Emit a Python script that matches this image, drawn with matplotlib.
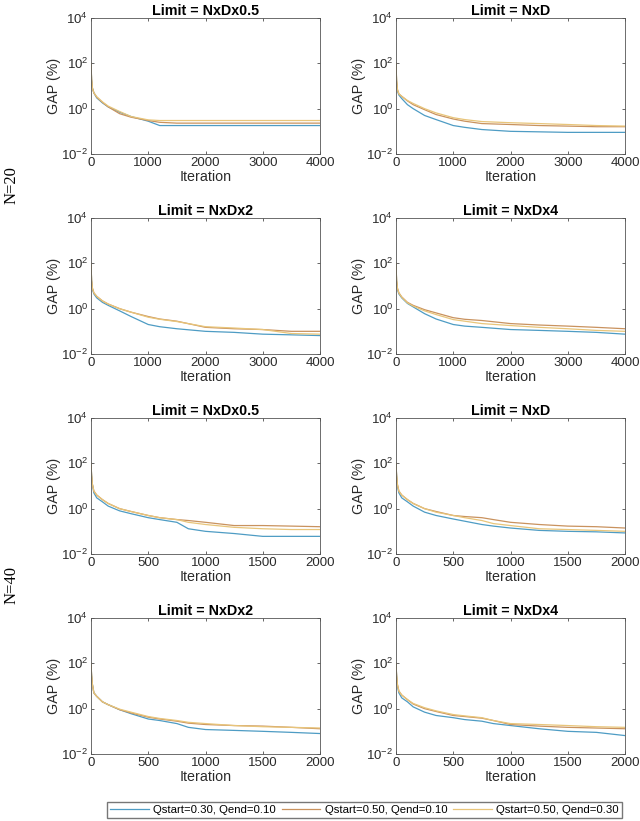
import numpy as np
import matplotlib.pyplot as plt
from matplotlib.ticker import LogLocator, NullFormatter

plt.rcParams['font.family'] = ['Liberation Sans', 'DejaVu Sans']

# iteration grids (N=20 runs for 4000 iterations, N=40 for 2000)
it20 = [0, 10, 25, 50, 100, 200, 300, 500, 700, 1000, 1200, 1500, 2000, 2500, 3000, 3500, 4000]
it40 = [0, 5, 12, 25, 50, 100, 150, 250, 350, 500, 600, 750, 850, 1000, 1250, 1500, 1750, 2000]

titles = ['Limit = NxDx0.5', 'Limit = NxD', 'Limit = NxDx2', 'Limit = NxDx4',
          'Limit = NxDx0.5', 'Limit = NxD', 'Limit = NxDx2', 'Limit = NxDx4']
labels = ['Qstart=0.30, Qend=0.10', 'Qstart=0.50, Qend=0.10', 'Qstart=0.50, Qend=0.30']
colors = ['#4e9cc4', '#c9925e', '#e8c57a']

# GAP (%) values, one list per series, per panel
gap_blue = [
    [100, 20, 8, 5, 3, 1.8, 1.2, 0.7, 0.45, 0.28, 0.18, 0.18, 0.18, 0.18, 0.18, 0.18, 0.18],
    [100, 15, 6, 4, 2.8, 1.5, 1.0, 0.5, 0.33, 0.18, 0.15, 0.12, 0.1, 0.095, 0.09, 0.09, 0.09],
    [100, 18, 7, 4.5, 3, 1.9, 1.4, 0.8, 0.45, 0.2, 0.16, 0.13, 0.1, 0.09, 0.075, 0.07, 0.065],
    [100, 16, 7, 4.5, 3, 1.7, 1.2, 0.6, 0.35, 0.2, 0.17, 0.15, 0.12, 0.11, 0.1, 0.09, 0.075],
    [100, 30, 12, 5, 3, 2, 1.3, 0.8, 0.6, 0.4, 0.33, 0.25, 0.13, 0.1, 0.08, 0.06, 0.06, 0.06],
    [100, 30, 10, 5, 3, 2, 1.3, 0.7, 0.5, 0.35, 0.28, 0.2, 0.17, 0.14, 0.11, 0.1, 0.095, 0.085],
    [100, 30, 12, 5, 3.5, 2, 1.5, 0.9, 0.6, 0.35, 0.3, 0.22, 0.15, 0.12, 0.11, 0.1, 0.09, 0.08],
    [100, 30, 10, 5, 3, 2, 1.2, 0.7, 0.5, 0.4, 0.33, 0.28, 0.22, 0.18, 0.13, 0.1, 0.09, 0.065],
]
gap_orange = [
    [100, 20, 8, 5, 3.2, 1.9, 1.2, 0.6, 0.42, 0.3, 0.25, 0.23, 0.23, 0.23, 0.23, 0.23, 0.23],
    [100, 18, 7, 4.5, 3.5, 2.2, 1.5, 0.9, 0.55, 0.35, 0.28, 0.22, 0.2, 0.18, 0.17, 0.16, 0.16],
    [100, 18, 8, 5, 3.5, 2.2, 1.6, 1.0, 0.7, 0.45, 0.35, 0.28, 0.15, 0.13, 0.12, 0.1, 0.1],
    [100, 18, 8, 5, 3.3, 1.9, 1.4, 0.9, 0.65, 0.4, 0.34, 0.3, 0.22, 0.19, 0.17, 0.15, 0.13],
    [100, 30, 12, 6, 4, 2.5, 1.7, 1.0, 0.75, 0.5, 0.4, 0.33, 0.3, 0.25, 0.18, 0.18, 0.17, 0.16],
    [100, 30, 12, 6, 4, 2.5, 1.7, 1.0, 0.75, 0.5, 0.45, 0.4, 0.33, 0.25, 0.2, 0.17, 0.16, 0.14],
    [100, 30, 12, 5, 3.5, 2, 1.5, 0.9, 0.65, 0.42, 0.35, 0.28, 0.23, 0.2, 0.18, 0.17, 0.15, 0.13],
    [100, 30, 12, 6, 4, 2.5, 1.6, 1.0, 0.75, 0.5, 0.45, 0.38, 0.3, 0.2, 0.17, 0.15, 0.14, 0.13],
]
gap_yellow = [
    [100, 20, 8, 5, 3.4, 2.0, 1.3, 0.75, 0.45, 0.32, 0.3, 0.3, 0.3, 0.3, 0.3, 0.3, 0.3],
    [100, 18, 7, 4.5, 3.5, 2.3, 1.7, 1.0, 0.65, 0.4, 0.33, 0.27, 0.24, 0.22, 0.2, 0.18, 0.17],
    [100, 18, 8, 5, 3.5, 2.2, 1.6, 1.0, 0.7, 0.42, 0.34, 0.27, 0.16, 0.14, 0.12, 0.08, 0.075],
    [100, 18, 8, 5, 3.2, 1.8, 1.3, 0.8, 0.55, 0.33, 0.28, 0.22, 0.18, 0.15, 0.13, 0.11, 0.1],
    [100, 30, 12, 6, 4, 2.5, 1.7, 1.0, 0.75, 0.5, 0.4, 0.33, 0.25, 0.2, 0.15, 0.13, 0.12, 0.12],
    [100, 30, 12, 6, 4, 2.5, 1.7, 1.0, 0.7, 0.5, 0.4, 0.3, 0.22, 0.18, 0.13, 0.12, 0.11, 0.1],
    [100, 30, 12, 5, 3.5, 2, 1.5, 0.95, 0.7, 0.45, 0.37, 0.3, 0.25, 0.22, 0.18, 0.16, 0.15, 0.14],
    [100, 30, 12, 6, 4, 2.5, 1.7, 1.1, 0.8, 0.55, 0.48, 0.4, 0.3, 0.22, 0.2, 0.18, 0.16, 0.15],
]

fig = plt.figure(figsize=(6.4, 8.21), dpi=100)
W, H = 640, 821
lefts = [91, 396]
tops = [18, 218, 418, 618]
aw, ah = 229, 136
ink = '#2a2a2a'

lines = []
for k in range(8):
    r, c = divmod(k, 2)
    ax = fig.add_axes([lefts[c] / W, 1 - (tops[r] + ah) / H, aw / W, ah / H])
    x = it20 if k < 4 else it40
    lines = []
    for ys, col, lab in zip([gap_blue[k], gap_orange[k], gap_yellow[k]], colors, labels):
        ln, = ax.plot(x, ys, color=col, lw=0.9, label=lab)
        lines.append(ln)
    ax.set_yscale('log')
    ax.set_ylim(1e-2, 1e4)
    ax.set_yticks([1e-2, 1e0, 1e2, 1e4])
    ax.yaxis.set_minor_locator(LogLocator(base=10, subs=np.arange(2, 10)))
    ax.yaxis.set_minor_formatter(NullFormatter())
    if k < 4:
        ax.set_xlim(0, 4000)
        ax.set_xticks([0, 1000, 2000, 3000, 4000])
    else:
        ax.set_xlim(0, 2000)
        ax.set_xticks([0, 500, 1000, 1500, 2000])
    ax.tick_params(which='both', direction='in', top=True, right=True,
                   labelsize=9.5, colors=ink, length=2.5, width=0.5, pad=2)
    ax.tick_params(which='minor', length=1.5)
    for sp in ax.spines.values():
        sp.set_color('#555555')
        sp.set_linewidth(0.6)
    ax.set_title(titles[k], fontsize=10.3, fontweight='bold', pad=2)
    ax.set_xlabel('Iteration', fontsize=10.3, labelpad=1, color=ink)
    ax.set_ylabel('GAP (%)', fontsize=10.3, labelpad=0, color=ink)

fig.text(12 / W, 1 - 185 / H, 'N=20', rotation=90, ha='center', va='center',
         fontsize=12, family=['Liberation Serif', 'DejaVu Serif'])
fig.text(12 / W, 1 - 585 / H, 'N=40', rotation=90, ha='center', va='center',
         fontsize=12, family=['Liberation Serif', 'DejaVu Serif'])

fig.legend(lines, labels, loc='center', ncol=3, fontsize=8.2,
           bbox_to_anchor=(364.5 / W, 1 - 810 / H), frameon=True, fancybox=False,
           edgecolor='#555555', handlelength=3.4, columnspacing=0.5, handletextpad=0.4,
           borderpad=0.25, borderaxespad=0)

fig.savefig('out.png', dpi=100)
